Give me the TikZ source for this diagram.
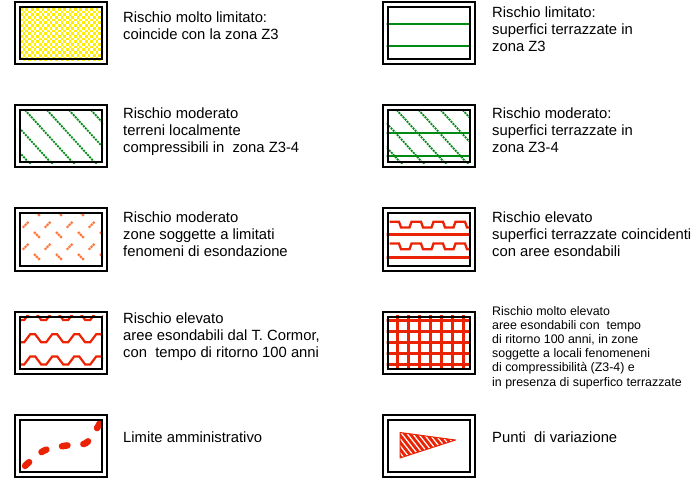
\documentclass[tikz,border=0pt]{standalone}
\usepackage{fontspec}
\setmainfont{Liberation Sans}
\usepackage{tikz}
\usetikzlibrary{backgrounds}
\definecolor{riskyellow}{RGB}{255,238,0}
\definecolor{riskgreen}{RGB}{0,140,20}
\definecolor{riskorange}{RGB}{255,120,60}
\definecolor{riskred}{RGB}{235,35,5}

\begin{document}
\begin{tikzpicture}[x=1pt, y=-1pt, font=\fontsize{14.8}{17}\selectfont,
  outbox/.style={draw, line width=2pt, minimum width=92pt, minimum height=62pt, inner sep=0pt},
  inbox/.style={draw, line width=2pt, minimum width=82pt, minimum height=52pt, inner sep=0pt},
  txt/.style={anchor=north west, align=left, inner sep=0pt},
  smalltxt/.style={txt, font=\fontsize{12.4}{14.2}\selectfont},
  dotline/.style={riskgreen, line width=1.8pt, dash pattern=on 2pt off 1pt},
  stair/.style={riskorange, line width=2.2pt, dash pattern=on 2.2pt off 0.8pt}]
  \useasboundingbox (0,0) rectangle (696,481);

  % legend boxes
  \foreach \n/\y in {1/33.5,2/136.5,3/239.5,4/342.5,5/446} {
    \node[outbox] (lo\n) at (61,\y) {};
    \node[inbox] (li\n) at (61,\y) {};
    \node[outbox] (ro\n) at (428.5,\y) {};
    \node[inbox] (ri\n) at (428.5,\y) {};
  }

  % texts
  \node[txt] (tl1) at (123,12) {Rischio molto limitato:\\coincide con la zona Z3};
  \node[txt] (tl2) at (123,108) {Rischio moderato\\terreni localmente\\compressibili in~ zona Z3-4};
  \node[txt] (tl3) at (123,212) {Rischio moderato\\zone soggette a limitati\\fenomeni di esondazione};
  \node[txt] (tl4) at (123,313) {Rischio elevato\\aree esondabili dal T. Cormor,\\con~ tempo di ritorno 100 anni};
  \node[txt] (tl5) at (123,432) {Limite amministrativo};
  \node[txt] (tr1) at (492,7) {Rischio limitato:\\superfici terrazzate in\\zona Z3};
  \node[txt] (tr2) at (492,108) {Rischio moderato:\\superfici terrazzate in\\zona Z3-4};
  \node[txt] (tr3) at (492,212) {Rischio elevato\\superfici terrazzate coincidenti\\con aree esondabili};
  \node[smalltxt] (tr4) at (492,306) {Rischio molto elevato\\aree esondabili con~ tempo\\di ritorno 100 anni, in zone\\soggette a locali fenomeneni\\di compressibilità (Z3-4) e\\in presenza di superfico terrazzate};
  \node[txt] (tr5) at (492,432) {Punti~ di variazione};

  \begin{scope}[on background layer]
    \begin{scope}
      \clip (li1.south west) rectangle (li1.north east);
      \foreach \j in {0,...,19} \foreach \i in {0,...,15}
        \fill[riskyellow] ({20+5.4*\i+2.7*mod(\j,2)},{8+2.7*\j}) rectangle +(2.7,2.7);
    \end{scope}
    \begin{scope}
      \clip (li2.south west) rectangle (li2.north east);
      \foreach \k in {-4,...,3} \draw[dotline] ({25+22*\k},110) -- ++(70,77);
    \end{scope}
    \begin{scope}
      \clip (li3.south west) rectangle (li3.north east);
      \foreach \i in {0,...,3} \foreach \j in {-1,...,2} {
        \draw[stair] ({22.7+22*\i},{227.7+22*\j}) -- ++(6,-6);
        \draw[stair] ({34+22*\i},{232+22*\j}) -- ++(6,6);
      }
    \end{scope}
    \begin{scope}
      \clip (li4.south west) rectangle (li4.north east);
      \foreach \t in {320,342.3,364.5}
        \draw[riskred, line width=2.2pt] (-2.8,\t)
          \foreach \k in {0,...,5} { -- ++(5,0) -- ++(6,-8) -- ++(5,0) -- ++(6,8) };
    \end{scope}
    \begin{scope}
      \clip (li5.south west) rectangle (li5.north east);
      \draw[riskred, line width=6.5pt, line cap=round, dash pattern=on 5.5pt off 16pt, dash phase=10.75pt]
        plot[smooth] coordinates {(18,474) (27,464) (44.3,450.5) (65.3,445.7) (86,443) (98.3,426) (104,414)};
    \end{scope}
    \begin{scope}
      \clip (ri1.south west) rectangle (ri1.north east);
      \foreach \y in {24,45.7} \draw[riskgreen, line width=2pt] (380,\y) -- (480,\y);
    \end{scope}
    \begin{scope}
      \clip (ri2.south west) rectangle (ri2.north east);
      \foreach \y in {133.3,156} \draw[riskgreen, line width=2pt] (380,\y) -- (480,\y);
      \foreach \k in {-3,...,3} \draw[dotline] ({396.7+22*\k},110) -- ++(70,77);
    \end{scope}
    \begin{scope}
      \clip (ri3.south west) rectangle (ri3.north east);
      \foreach \h in {221.7,243.5}
        \draw[riskred, line width=2.3pt] (389.5,\h)
          \foreach \k in {0,...,3} { -- ++(9.5,0) -- ++(2,5.8) -- ++(8.5,0) -- ++(2,-5.8) };
      \foreach \y in {235,257.3} \draw[riskred, line width=3pt] (380,\y) -- (480,\y);
    \end{scope}
    \begin{scope}
      \clip (ri4.south west) rectangle (ri4.north east);
      \foreach \x in {397.6,408.6,...,465} \draw[riskred, line width=3pt] (\x,310) -- (\x,375);
      \foreach \y in {320,331.2,...,366} \draw[riskred, line width=3pt] (380,\y) -- (480,\y);
    \end{scope}
  \end{scope}

  % pennant
  \begin{scope}
    \clip (400,432.5) -- (455.5,440) -- (400,458) -- cycle;
    \foreach \k in {0,...,14} \draw[riskred, line width=2.8pt] ({378+5.5*\k},428) -- ++(25,32);
  \end{scope}
  \draw[riskred, line width=1pt, line join=round] (400,432.5) -- (455.5,440) -- (400,458) -- cycle;
\end{tikzpicture}
\end{document}
